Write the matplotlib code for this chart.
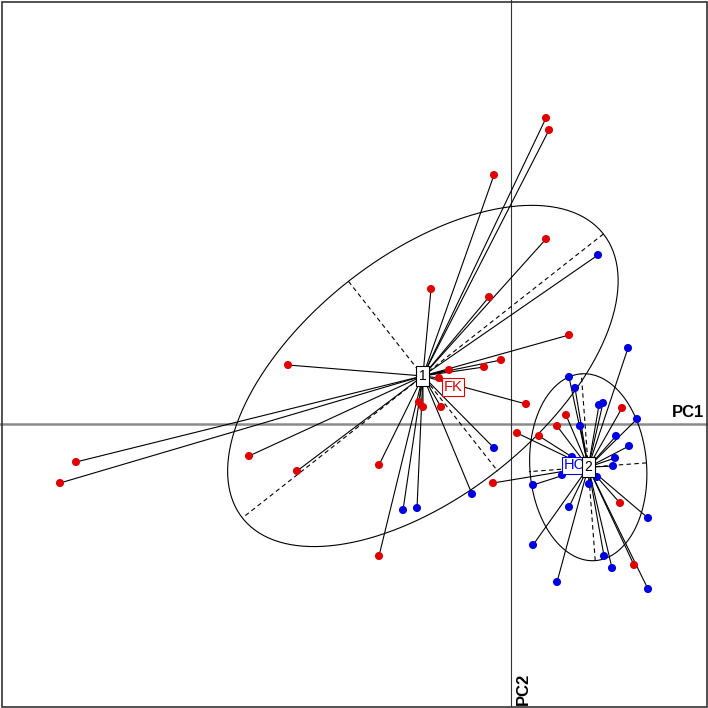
import numpy as np
import matplotlib

matplotlib.use("Agg")
import matplotlib.pyplot as plt
from matplotlib.patches import Rectangle

plt.rcParams["font.family"] = ["Liberation Sans", "DejaVu Sans"]

# scores on the first two principal components, cluster membership and status
pc1 = [0.35, 0.38, -0.17, 0.35, 0.87, -0.80, -0.22, -0.10, -0.27, -0.62,
       -0.72, 0.15, -0.92, -0.88, -0.70, -0.17, -0.39, -2.23, -2.62, -2.14,
       -1.32, -1.08, -0.94, -1.32, -4.35, -4.51, 0.58,
       1.17, 0.58, 0.64, 0.88, 0.92, 1.11, 0.55, 1.26, 0.46, 0.69,
       0.06, 0.28, 1.05, 1.18, 1.04, 0.61, 1.02, 0.51, 0.22, 0.78,
       0.86, 1.09, 0.58, 1.37, 0.22, 0.93, 1.01, 1.23, 0.46, 1.37, -0.18]
pc2 = [3.06, 2.94, 2.49, 1.85, 1.69, 1.35, 1.27, 0.64, 0.57, 0.54,
       0.46, 0.20, 0.22, 0.17, 0.17, -0.24, -0.70, 0.59, -0.32, -0.47,
       -0.41, -0.86, -0.84, -1.32, -0.38, -0.59, 0.89,
       0.76, 0.47, 0.36, 0.19, 0.21, 0.16, 0.09, 0.05, -0.02, -0.02,
       -0.09, -0.12, -0.12, -0.22, -0.34, -0.33, -0.42, -0.51, -0.61, -0.60,
       -0.53, -0.79, -0.83, -0.94, -1.21, -1.32, -1.44, -1.41, -1.58, -1.65, -0.59]
cluster = [1] * 27 + [2] * 31
status = ["FK", "FK", "FK", "FK", "HC", "FK", "FK", "FK", "FK", "FK",
          "FK", "FK", "FK", "FK", "FK", "HC", "HC", "FK", "FK", "FK",
          "FK", "HC", "HC", "FK", "FK", "FK", "FK",
          "HC", "HC", "HC", "HC", "HC", "FK", "FK", "HC", "FK", "HC",
          "FK", "FK", "HC", "HC", "HC", "HC", "HC", "HC", "HC", "HC",
          "HC", "FK", "HC", "HC", "HC", "HC", "HC", "FK", "HC", "HC", "FK"]

status_colors = {"FK": "#e00000", "HC": "#0000e0"}

x = np.array(pc1)
y = np.array(pc2)
cl = np.array(cluster)
st = np.array(status)

fig = plt.figure(figsize=(7.08, 7.08), dpi=100)
ax = fig.add_axes([0, 0, 1, 1])
ax.set_xlim(-5.11, 1.97)
ax.set_ylim(-2.84, 4.24)
ax.axis("off")

# outer frame
m0 = 1.5 / 708
ax.add_patch(Rectangle((m0, m0), 1 - 2 * m0, 1 - 2 * m0, transform=ax.transAxes,
                       fill=False, edgecolor="#333333", lw=1.2, zorder=10))

# axes lines
ax.axhline(0, color="#8c8c8c", lw=1.8, zorder=1)
ax.axvline(0, color="#333333", lw=0.8, zorder=1)
ax.text(1.93, 0.04, "PC1", fontsize=12, fontweight="bold",
        ha="right", va="bottom")
ax.text(0.05, -2.81, "PC2", fontsize=12, fontweight="bold",
        rotation=90, ha="left", va="bottom")

# stars, ellipses and centroid labels for each cluster
t = np.linspace(0, 2 * np.pi, 300)
for k in [1, 2]:
    m = cl == k
    cx, cy = x[m].mean(), y[m].mean()
    for xi, yi in zip(x[m], y[m]):
        ax.plot([cx, xi], [cy, yi], color="black", lw=0.8, zorder=2)
    cov = np.cov(np.vstack([x[m], y[m]]), bias=True)
    vals, vecs = np.linalg.eigh(cov)
    a = 1.5 * np.sqrt(vals)
    pts = vecs @ np.vstack([a[0] * np.cos(t), a[1] * np.sin(t)])
    ax.plot(cx + pts[0], cy + pts[1], color="black", lw=0.8, zorder=2)
    for j in range(2):
        v = vecs[:, j] * a[j]
        ax.plot([cx - v[0], cx + v[0]], [cy - v[1], cy + v[1]],
                color="black", lw=0.8, ls=(0, (4, 3)), zorder=2)
    ax.text(cx, cy, str(k), fontsize=10, ha="center", va="center", zorder=6,
            bbox=dict(boxstyle="square,pad=0.2", fc="white", ec="black", lw=0.8))

# points coloured by status
for s, c in status_colors.items():
    m = st == s
    ax.scatter(x[m], y[m], s=34, color=c, edgecolors="none", zorder=4)

# status labels at status centroids
for s, c in status_colors.items():
    m = st == s
    ax.text(x[m].mean(), y[m].mean(), s, fontsize=10.5, color=c,
            ha="center", va="center", zorder=5,
            bbox=dict(boxstyle="square,pad=0.12", fc="white", ec=c, lw=0.8))

fig.savefig("out.png", dpi=100)
